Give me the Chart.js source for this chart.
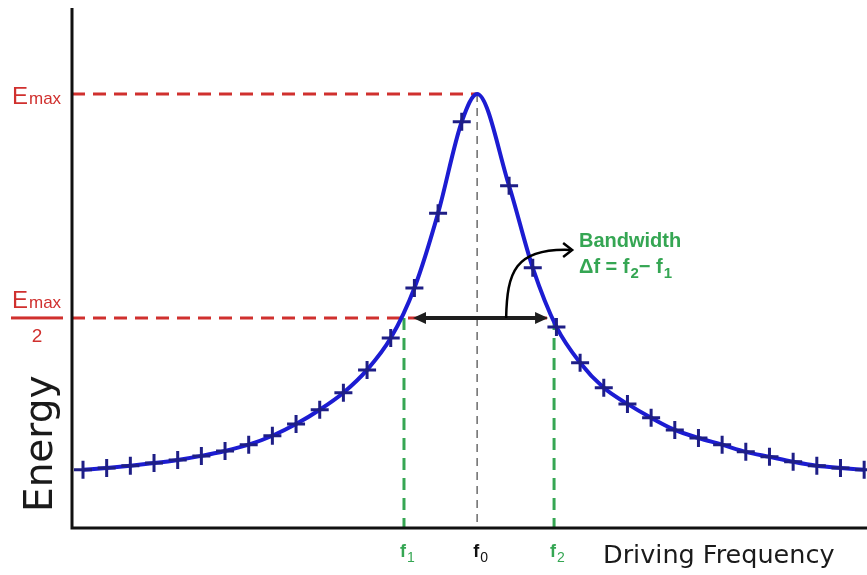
<!DOCTYPE html>
<html>
<head>
<meta charset="utf-8">
<script src="https://cdn.jsdelivr.net/npm/chart.js@4.4.1/dist/chart.umd.min.js"></script>
<style>
  html, body { margin: 0; padding: 0; background: #fff; }
  #wrap { width: 867px; height: 575px; position: relative; }
</style>
</head>
<body>
<div id="wrap"><canvas id="chart"></canvas></div>
<script>
// frequency steps (one per measured point) and energy as fraction of Emax
const frequency = [0, 1, 2, 3, 4, 5, 6, 7, 8, 9, 10, 11, 12, 13, 14, 15, 16, 16.65,
  18, 19, 20, 21, 22, 23, 24, 25, 26, 27, 28, 29, 30, 31, 32, 33];
const energy = [0.161, 0.165, 0.170, 0.176, 0.183, 0.192, 0.203, 0.217, 0.237, 0.263,
  0.295, 0.333, 0.384, 0.455, 0.567, 0.734, 0.938, 1.0,
  0.795, 0.612, 0.480, 0.400, 0.344, 0.308, 0.277, 0.250, 0.232, 0.217, 0.201,
  0.190, 0.179, 0.170, 0.165, 0.161];

const f0 = 16.65;  // resonance
const f1 = 13.56;  // lower half-power frequency
const f2 = 19.9;   // upper half-power frequency
const eMax = 1.0;
const eHalf = 0.5;

const points = frequency.map((f, i) => ({ x: f, y: energy[i] }));

const RED = "#d0302e";
const GREEN = "#35a653";

// draw "f" with a subscript
function drawSub(ctx, base, sub, x, y, color, size) {
  ctx.fillStyle = color;
  ctx.font = "bold " + size + "px 'Liberation Sans', Arial, sans-serif";
  ctx.textAlign = "left";
  ctx.textBaseline = "alphabetic";
  ctx.fillText(base, x, y);
  const w = ctx.measureText(base).width;
  ctx.font = Math.round(size * 0.75) + "px 'Liberation Sans', Arial, sans-serif";
  ctx.fillText(sub, x + w + 1, y + 5);
}

const annotations = {
  id: "annotations",
  beforeDatasetsDraw(chart) {
    const { ctx, chartArea, scales: { x, y } } = chart;
    const xf0 = x.getPixelForValue(f0);
    const xf1 = x.getPixelForValue(f1);
    const xf2 = x.getPixelForValue(f2);
    const yMax = y.getPixelForValue(eMax);
    const yHalf = y.getPixelForValue(eHalf);
    ctx.save();

    // gray centre line at f0
    ctx.strokeStyle = "#6b6b6b";
    ctx.lineWidth = 1.5;
    ctx.setLineDash([8, 6]);
    ctx.beginPath();
    ctx.moveTo(xf0, yMax);
    ctx.lineTo(xf0, chartArea.bottom);
    ctx.stroke();

    // red dashed levels
    ctx.strokeStyle = RED;
    ctx.lineWidth = 3;
    ctx.setLineDash([13, 8]);
    ctx.beginPath();
    ctx.moveTo(chartArea.left, yMax);
    ctx.lineTo(xf0, yMax);
    ctx.moveTo(chartArea.left, yHalf);
    ctx.lineTo(xf2, yHalf);
    ctx.stroke();

    // green dashed drops at f1, f2
    ctx.strokeStyle = GREEN;
    ctx.setLineDash([12, 8]);
    ctx.beginPath();
    ctx.moveTo(xf1, yHalf);
    ctx.lineTo(xf1, chartArea.bottom);
    ctx.moveTo(xf2, yHalf);
    ctx.lineTo(xf2, chartArea.bottom);
    ctx.stroke();
    ctx.restore();
  },
  afterDraw(chart) {
    const { ctx, chartArea, scales: { x, y } } = chart;
    const xf0 = x.getPixelForValue(f0);
    const xf1 = x.getPixelForValue(f1);
    const xf2 = x.getPixelForValue(f2);
    const yMax = y.getPixelForValue(eMax);
    const yHalf = y.getPixelForValue(eHalf);
    ctx.save();

    // axes
    ctx.strokeStyle = "#111";
    ctx.lineWidth = 3;
    ctx.setLineDash([]);
    ctx.beginPath();
    ctx.moveTo(chartArea.left, chartArea.top);
    ctx.lineTo(chartArea.left, chartArea.bottom);
    ctx.lineTo(chartArea.right, chartArea.bottom);
    ctx.stroke();

    // bandwidth double arrow
    const aL = xf1 + 9, aR = xf2 - 6;
    ctx.strokeStyle = "#1e1e1e";
    ctx.fillStyle = "#1e1e1e";
    ctx.lineWidth = 4;
    ctx.beginPath();
    ctx.moveTo(aL + 8, yHalf);
    ctx.lineTo(aR - 8, yHalf);
    ctx.stroke();
    ctx.beginPath();
    ctx.moveTo(aL, yHalf);
    ctx.lineTo(aL + 13, yHalf - 6);
    ctx.lineTo(aL + 13, yHalf + 6);
    ctx.closePath();
    ctx.moveTo(aR, yHalf);
    ctx.lineTo(aR - 13, yHalf - 6);
    ctx.lineTo(aR - 13, yHalf + 6);
    ctx.closePath();
    ctx.fill();

    // curved pointer to the label
    const sx = xf0 + 29;
    ctx.lineWidth = 2.5;
    ctx.strokeStyle = "#000";
    ctx.beginPath();
    ctx.moveTo(sx, yHalf);
    ctx.bezierCurveTo(sx + 1, yHalf - 45, sx + 8, yHalf - 70, sx + 64, yHalf - 68);
    ctx.stroke();
    ctx.beginPath();
    ctx.moveTo(sx + 57, yHalf - 75);
    ctx.lineTo(sx + 66, yHalf - 68);
    ctx.lineTo(sx + 57, yHalf - 61);
    ctx.stroke();

    // bandwidth text
    ctx.fillStyle = GREEN;
    ctx.textAlign = "left";
    ctx.textBaseline = "alphabetic";
    ctx.font = "bold 20px 'Liberation Sans', Arial, sans-serif";
    ctx.fillText("Bandwidth", 579, 247);
    let tx = 579;
    const ty = 273;
    const big = "bold 20px 'Liberation Sans', Arial, sans-serif";
    const small = "bold 15px 'Liberation Sans', Arial, sans-serif";
    [["\u0394f = f", big, 0], ["2", small, 5], ["\u2212 f", big, 0], ["1", small, 5]].forEach(([t, f, dy]) => {
      ctx.font = f;
      ctx.fillText(t, tx, ty + dy);
      tx += ctx.measureText(t).width + (dy ? 0 : 1);
    });

    // Emax labels
    ctx.fillStyle = RED;
    ctx.font = "24px 'Liberation Sans', Arial, sans-serif";
    ctx.fillText("E", 12, yMax + 10);
    ctx.font = "17px 'Liberation Sans', Arial, sans-serif";
    ctx.fillText("max", 29, yMax + 10);
    ctx.font = "24px 'Liberation Sans', Arial, sans-serif";
    ctx.fillText("E", 12, yHalf - 10);
    ctx.font = "17px 'Liberation Sans', Arial, sans-serif";
    ctx.fillText("max", 29, yHalf - 10);
    ctx.fillRect(11, yHalf - 1.5, 52, 3);
    ctx.font = "19px 'Liberation Sans', Arial, sans-serif";
    ctx.textAlign = "center";
    ctx.fillText("2", 37, yHalf + 24);

    // frequency markers under the axis
    drawSub(ctx, "f", "1", xf1 - 4, 557, GREEN, 18);
    drawSub(ctx, "f", "0", xf0 - 4, 557, "#111", 18);
    drawSub(ctx, "f", "2", xf2 - 4, 557, GREEN, 18);

    // axis titles
    ctx.fillStyle = "#1a1a1a";
    ctx.textAlign = "left";
    ctx.font = "25.5px 'DejaVu Sans', Verdana, sans-serif";
    ctx.fillText("Driving Frequency", 603, 563);

    ctx.translate(52, 512);
    ctx.rotate(-Math.PI / 2);
    ctx.font = "39px 'DejaVu Sans', Verdana, sans-serif";
    ctx.fillText("Energy", 0, 0);
    ctx.restore();
  }
};

new Chart(document.getElementById("chart"), {
  type: "line",
  data: {
    datasets: [{
      data: points,
      borderColor: "#1c1cd2",
      borderWidth: 4,
      cubicInterpolationMode: "monotone",
      pointStyle: "cross",
      pointRadius: (c) => (c.raw && c.raw.x === f0 ? 0 : 9),
      pointBorderColor: "#1e1e86",
      pointBorderWidth: 3,
      pointHoverRadius: 9,
      clip: false
    }]
  },
  plugins: [annotations],
  options: {
    responsive: true,
    maintainAspectRatio: false,
    animation: false,
    layout: { autoPadding: false, padding: { left: 72, top: 8, right: 0, bottom: 47 } },
    plugins: { legend: { display: false }, tooltip: { enabled: false } },
    scales: {
      x: { type: "linear", min: -0.465, max: 33.12, display: false },
      y: { min: 0.031, max: 1.192, display: false }
    }
  }
});
</script>
</body>
</html>
